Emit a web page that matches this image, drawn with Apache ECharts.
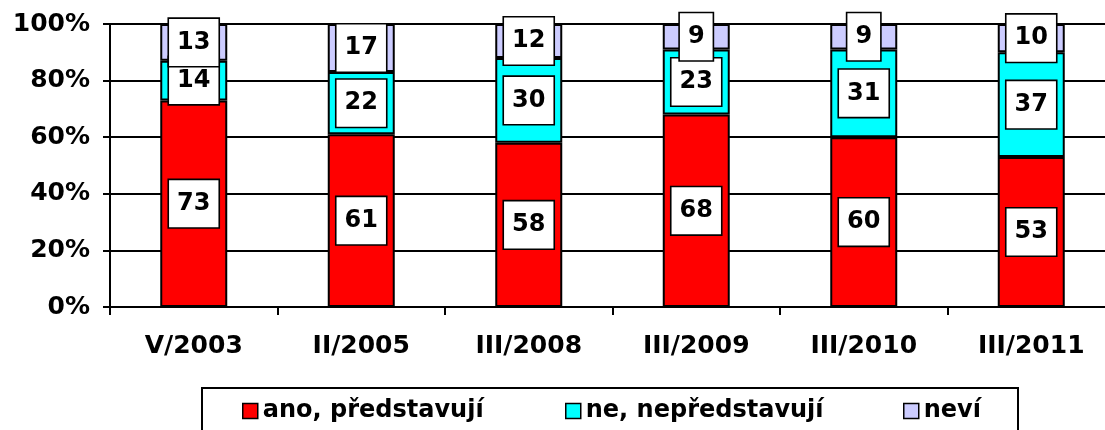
<!DOCTYPE html>
<html>
<head>
<meta charset="utf-8">
<script src="https://cdn.jsdelivr.net/npm/echarts@6/dist/echarts.min.js"></script>
<style>
html,body{margin:0;padding:0;background:#fff;}
#chart{width:1105px;height:430px;}
</style>
</head>
<body>
<div id="chart"></div>
<script>
const categories = ['V/2003', 'II/2005', 'III/2008', 'III/2009', 'III/2010', 'III/2011'];
const seriesNames = ['ano, představují', 'ne, nepředstavují', 'neví'];
const anoValues = [73, 61, 58, 68, 60, 53];
const neValues = [14, 22, 30, 23, 31, 37];
const neviValues = [13, 17, 12, 9, 9, 10];
const seriesColors = ['#ff0000', '#00ffff', '#ccccff'];
const yTicks = [0, 20, 40, 60, 80, 100];

const FONT = 'DejaVu Sans';
const chart = echarts.init(document.getElementById('chart'), null, {renderer: 'canvas'});

function makeSeries(name, data, color) {
  return {
    name: name,
    type: 'bar',
    stack: 'total',
    data: data,
    barWidth: 67,
    itemStyle: {color: color, borderColor: '#000', borderWidth: 2},
    label: {
      show: true,
      position: 'inside',
      formatter: '{c}',
      color: '#000',
      fontFamily: FONT,
      fontWeight: 'bold',
      fontSize: 24,
      lineHeight: 27,
      backgroundColor: '#fff',
      borderColor: '#000',
      borderWidth: 1.6,
      padding: [10, 8, 10, 8]
    },
    emphasis: {disabled: true}
  };
}

const legendLefts = [242, 565, 903];
const legends = seriesNames.map((n, i) => ({
  data: [n],
  left: legendLefts[i],
  top: 399,
  orient: 'horizontal',
  itemWidth: 15,
  itemHeight: 15,
  itemGap: 0,
  padding: 0,
  icon: 'rect',
  itemStyle: {borderColor: '#000', borderWidth: 1.5},
  textStyle: {fontFamily: FONT, fontWeight: 'bold', fontSize: 24, color: '#000'},
  selectedMode: false
}));

chart.setOption({
  animation: false,
  backgroundColor: '#fff',
  grid: {left: 110, width: 1005, top: 24, height: 283, containLabel: false, outerBoundsMode: 'none'},
  graphic: [{
    type: 'rect',
    shape: {x: 202, y: 388, width: 816, height: 60},
    style: {fill: '#fff', stroke: '#000', lineWidth: 2},
    z: 0
  }],
  legend: legends,
  xAxis: {
    type: 'category',
    data: categories,
    boundaryGap: true,
    axisLine: {lineStyle: {color: '#000', width: 2}},
    axisTick: {show: true, length: 8, lineStyle: {color: '#000', width: 2}},
    axisLabel: {margin: 27, color: '#000', fontFamily: FONT, fontWeight: 'bold', fontSize: 25}
  },
  yAxis: {
    type: 'value',
    min: 0,
    max: 100,
    interval: 20,
    axisLine: {show: true, lineStyle: {color: '#000', width: 2}},
    axisTick: {show: true, length: 7, lineStyle: {color: '#000', width: 2}},
    splitLine: {show: true, lineStyle: {color: '#000', width: 2}},
    axisLabel: {
      margin: 20,
      color: '#000',
      fontFamily: FONT,
      fontWeight: 'bold',
      fontSize: 25,
      formatter: v => (yTicks.indexOf(v) >= 0 ? v + '%' : '')
    }
  },
  series: [
    makeSeries(seriesNames[0], anoValues, seriesColors[0]),
    makeSeries(seriesNames[1], neValues, seriesColors[1]),
    makeSeries(seriesNames[2], neviValues, seriesColors[2])
  ]
});
</script>
</body>
</html>
